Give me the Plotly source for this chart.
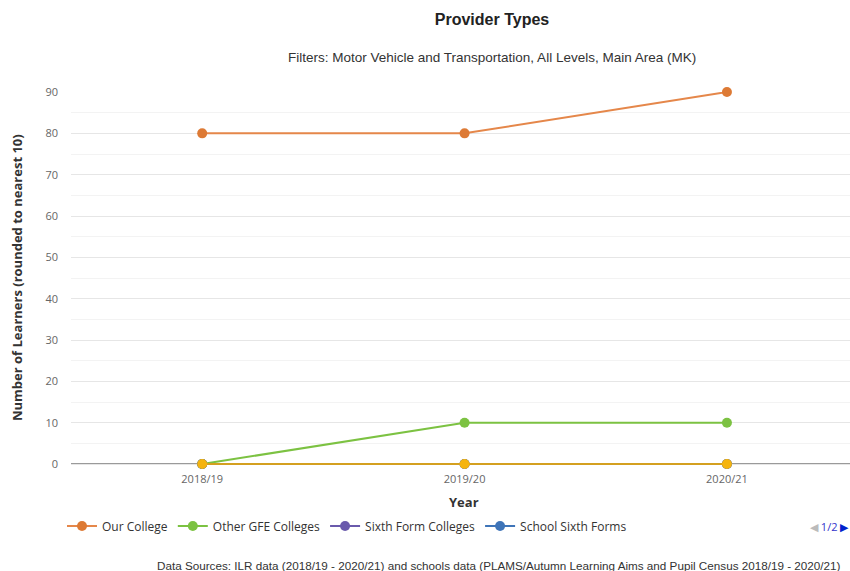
import plotly.graph_objects as go

years = ["2018/19", "2019/20", "2020/21"]
our_college = [80, 80, 90]
other_gfe = [0, 10, 10]
sixth_form_colleges = [0, 0, 0]
school_sixth_forms = [0, 0, 0]
other_providers = [0, 0, 0]

series = [
    ("Our College", our_college, "#e5874a", "#dd7a35", True),
    ("Other GFE Colleges", other_gfe, "#7cc242", "#7cc242", True),
    ("Sixth Form Colleges", sixth_form_colleges, "#6a5aac", "#6a5aac", True),
    ("School Sixth Forms", school_sixth_forms, "#3e74b8", "#3e74b8", True),
    ("Independent Training Providers", other_providers, "#d4a020", "#f5b40f", False),
]

W, H = 850, 571
Y0_PX, Y90_PX = 464, 92
YMIN = -1.2
scale = (Y0_PX - Y90_PX) / 90.0
L, R, T = 71, 0, Y90_PX
B = H - (Y0_PX + (-YMIN) * scale)

fig = go.Figure()
for name, vals, lc, mc, show in series:
    fig.add_trace(go.Scatter(
        x=years, y=vals, name=name, mode="lines+markers",
        line=dict(color=lc, width=2),
        marker=dict(color=mc, size=10),
        showlegend=show, cliponaxis=False,
    ))

pw = W - L - R
ph = H - T - B
def px_x(x):
    return (x - L) / pw
def px_y(y):
    return (H - B - y) / ph

fig.update_layout(
    width=W, height=H,
    margin=dict(l=L, r=R, t=T, b=B),
    plot_bgcolor="white", paper_bgcolor="white",
    font=dict(family="Open Sans", size=11, color="#666666"),
    title=dict(text="<b>Provider Types</b>", x=492 / W, xanchor="center",
               y=1 - 19 / H, yanchor="middle",
               font=dict(family="Liberation Sans", size=16, color="#222222")),
    showlegend=True,
    legend=dict(orientation="h", x=px_x(62), xanchor="left",
                y=px_y(526), yanchor="middle",
                font=dict(family="Open Sans", size=12, color="#333333"),
                itemwidth=30, tracegroupgap=0),
    xaxis=dict(
        type="category", range=[-0.5, 2.469],
        showgrid=False, showline=False,
        ticks="", ticklabelstandoff=2,
        tickfont=dict(family="Open Sans", size=11, color="#666666"),
        zeroline=False,
    ),
    yaxis=dict(
        range=[YMIN, 90], tickvals=[0, 10, 20, 30, 40, 50, 60, 70, 80, 90],
        showgrid=True, gridcolor="#e6e6e6", gridwidth=1,
        minor=dict(tickvals=[5, 15, 25, 35, 45, 55, 65, 75, 85], showgrid=True,
                   gridcolor="#f3f3f3", gridwidth=1),
        zeroline=False, showline=False, ticks="", ticklabelstandoff=12,
        tickfont=dict(family="Open Sans", size=11, color="#666666"),
    ),
)

fig.add_shape(type="line", xref="paper", yref="y", x0=0, x1=1, y0=0, y1=0,
              line=dict(color="#9a9a9a", width=2), layer="below")

fig.add_annotation(text="Filters: Motor Vehicle and Transportation, All Levels, Main Area (MK)",
                   xref="paper", yref="paper", x=px_x(492), y=px_y(58),
                   xanchor="center", yanchor="middle", showarrow=False,
                   font=dict(family="Liberation Sans", size=13.5, color="#333333"))
fig.add_annotation(text="<b>Number of Learners (rounded to nearest 10)</b>",
                   xref="paper", yref="paper", x=px_x(17), y=px_y(278), textangle=-90,
                   xanchor="center", yanchor="middle", showarrow=False,
                   font=dict(family="Open Sans", size=13, color="#333333"))
fig.add_annotation(text="<b>Year</b>",
                   xref="paper", yref="paper", x=px_x(464), y=px_y(502),
                   xanchor="center", yanchor="middle", showarrow=False,
                   font=dict(family="Open Sans", size=13, color="#333333"))
fig.add_annotation(text="<span style='color:#bbbbbb'>◀</span> <span style='color:#3333cc'>1/2</span> <span style='color:#0022cc'>▶</span>",
                   xref="paper", yref="paper", x=px_x(808), y=px_y(526),
                   xanchor="left", yanchor="middle", showarrow=False,
                   font=dict(family="Open Sans", size=11))
fig.add_annotation(text="Data Sources: ILR data (2018/19 - 2020/21) and schools data (PLAMS/Autumn Learning Aims and Pupil Census 2018/19 - 2020/21)",
                   xref="paper", yref="paper", x=px_x(843), y=px_y(565),
                   xanchor="right", yanchor="middle", showarrow=False,
                   font=dict(family="Liberation Sans", size=11.7, color="#333333"))

fig.write_html("out.html")
